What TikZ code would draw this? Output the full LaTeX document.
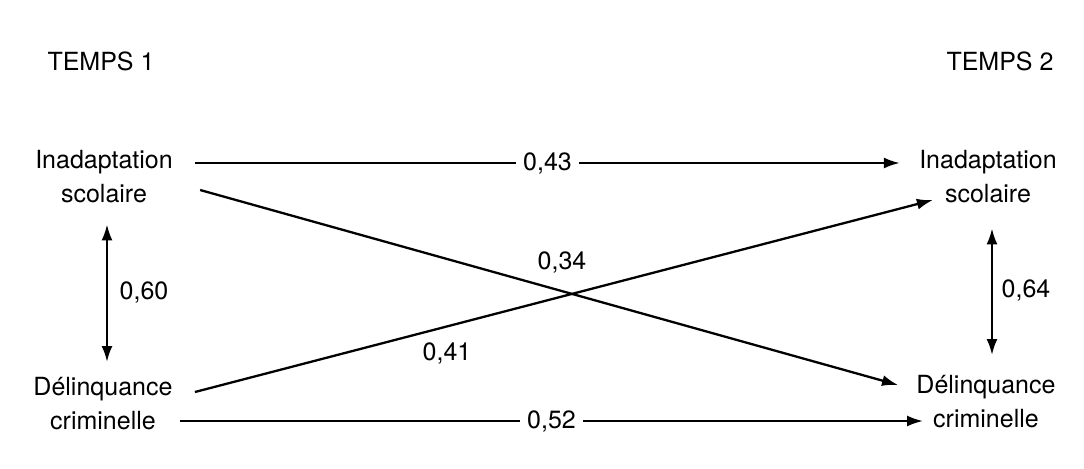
\documentclass[tikz,border=0pt]{standalone}
\usepackage{fontspec}
\setmainfont{TeX Gyre Heros}
\usetikzlibrary{arrows.meta,calc}
\begin{document}
\begin{tikzpicture}[x=0.5pt,y=-0.5pt,
  lbl/.style={font=\fontsize{12.5}{17}\selectfont, inner sep=0pt, align=center},
  num/.style={font=\fontsize{12.5}{15}\selectfont, inner sep=0pt},
  gap/.style={num, fill=white, inner xsep=3.5pt, inner ysep=1pt},
  arr/.style={line width=1.15pt,-{Latex[length=8pt,width=5.5pt]}},
  darr/.style={line width=1.15pt,{Latex[length=8pt,width=5.5pt]}-{Latex[length=8pt,width=5.5pt]}}]
\useasboundingbox[fill=white] (0,0) rectangle (1084,468);

% headings
\node[num] (t1) at (101,61) {TEMPS 1};
\node[num] (t2) at (1000,61) {TEMPS 2};

% variables
\node[lbl, anchor=north] (IS1) at (104,150) {Inadaptation\\scolaire};
\node[lbl, anchor=north] (DC1) at (103,377) {Délinquance\\criminelle};
\node[lbl, anchor=north] (IS2) at (988,150) {Inadaptation\\scolaire};
\node[lbl, anchor=north] (DC2) at (986,375) {Délinquance\\criminelle};

% stability paths
\draw[arr] ($(IS1.north east)+(22,13)$) -- node[gap] (l43) {0,43} ($(IS2.north west)+(-19,13)$);
\draw[arr] ($(DC1.north east)+(7,44)$) -- node[gap] (l52) {0,52} ($(DC2.north west)+(7,46)$);

% cross-lagged paths
\draw[arr] ($(IS1.north east)+(27,40)$) -- ($(DC2.north west)+(-18,10)$);
\draw[arr] ($(DC1.north east)+(22,15)$) -- ($(IS2.north west)+(14,50)$);
\node[num] (l34) at (562,262) {0,34};
\node[num] (l41) at (447,353) {0,41};

% synchronous correlations
\draw[darr] ($(IS1.south)+(3,21)$) -- ($(DC1.north)+(4,-15)$);
\draw[darr] ($(IS2.south)+(4,25)$) -- ($(DC2.north)+(6,-20)$);
\node[num] (l60) at (144,292) {0,60};
\node[num] (l64) at (1026,290) {0,64};
\end{tikzpicture}
\end{document}
